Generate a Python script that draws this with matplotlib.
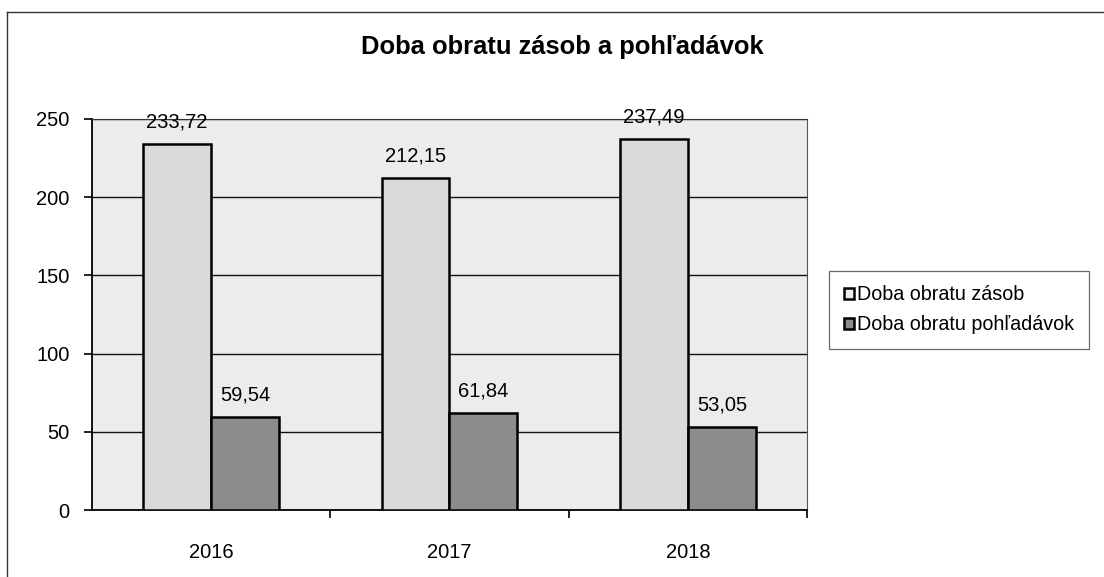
import matplotlib.pyplot as plt
import matplotlib.patches as mpatches
from matplotlib.lines import Line2D
import numpy as np

plt.rcParams['font.family'] = ['Liberation Sans', 'DejaVu Sans']

years = ['2016', '2017', '2018']
zasoby = [233.72, 212.15, 237.49]
pohladavky = [59.54, 61.84, 53.05]
labels = ['Doba obratu zásob', 'Doba obratu pohľadávok']


def fmt(v):
    return ('%.2f' % v).replace('.', ',')


fig = plt.figure(figsize=(11.04, 5.77), dpi=100)
ax = fig.add_axes([0.0833, 0.1161, 0.6477, 0.6777])
ax.set_facecolor('#ececec')

x = np.arange(len(years))
w = 0.285
b1 = ax.bar(x - w / 2, zasoby, w, color='#dadada', edgecolor='black', linewidth=1.8, zorder=3, label=labels[0])
b2 = ax.bar(x + w / 2, pohladavky, w, color='#8c8c8c', edgecolor='black', linewidth=1.8, zorder=3, label=labels[1])

for bars, vals in ((b1, zasoby), (b2, pohladavky)):
    for r, v in zip(bars, vals):
        ax.annotate(fmt(v), (r.get_x() + r.get_width() / 2, v), xytext=(0, 9),
                    textcoords='offset points', ha='center', va='bottom', fontsize=14.5, zorder=4)

ax.set_xlim(-0.5, 2.5)
ax.set_ylim(0, 250)
ax.set_yticks([0, 50, 100, 150, 200, 250])
ax.yaxis.grid(True, color='#111111', linewidth=1.0, zorder=1)
ax.set_xticks(x)
ax.set_xticklabels(years)
ax.set_xticks([0.5, 1.5, 2.5], minor=True)
ax.tick_params(axis='x', which='major', length=0, labelsize=14.5, pad=24)
ax.tick_params(axis='x', which='minor', length=6, width=1.2, direction='out')
ax.tick_params(axis='y', length=6, width=1.2, labelsize=14.5, pad=10)
ax.spines['left'].set_linewidth(1.3)
ax.spines['bottom'].set_linewidth(1.3)
ax.spines['top'].set_color('#333333')
ax.spines['right'].set_color('#555555')

fig.text(0.509, 0.918, 'Doba obratu zásob a pohľadávok', ha='center', va='center',
         fontsize=18.4, fontweight='bold')

handles = [mpatches.Patch(facecolor='#eeeeee', edgecolor='black', linewidth=1.8),
           mpatches.Patch(facecolor='#8c8c8c', edgecolor='black', linewidth=1.8)]
leg = fig.legend(handles, labels, loc='center left', bbox_to_anchor=(0.751, 0.463),
                 fontsize=14.2, frameon=True, fancybox=False, edgecolor='#444444',
                 handlelength=0.5, handleheight=0.5, handletextpad=0.15, labelspacing=0.55,
                 borderpad=0.75, borderaxespad=0)
leg.get_frame().set_linewidth(0.9)

fig.add_artist(Line2D([0.0063, 0.0063], [0.0, 0.979], color='#333333', linewidth=1))
fig.add_artist(Line2D([0.0063, 0.999], [0.979, 0.979], color='#333333', linewidth=1))

fig.savefig('out.png', dpi=100)
